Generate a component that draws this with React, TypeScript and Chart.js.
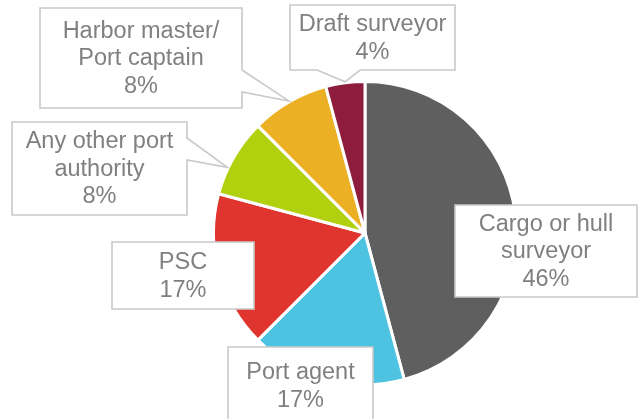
import React, { useEffect, useRef } from "react";
import { Chart, registerables } from "chart.js";

Chart.register(...registerables);

// ---- data ----
const categories = [
  "Cargo or hull surveyor",
  "Port agent",
  "PSC",
  "Any other port authority",
  "Harbor master/ Port captain",
  "Draft surveyor",
];
const labelLines = [
  ["Cargo or hull", "surveyor"],
  ["Port agent"],
  ["PSC"],
  ["Any other port", "authority"],
  ["Harbor master/", "Port captain"],
  ["Draft surveyor"],
];
const responses = [11, 4, 4, 2, 2, 1];
const sliceColors = ["#5f5f5f", "#4dc3e1", "#e0352f", "#b1d10f", "#ebb024", "#8e1c3d"];

// ---- callout layout (label boxes, not marks) ----
type Callout = {
  box: [number, number, number, number];
  wedge?: { side: "right" | "bottom"; a: number; b: number; at: number };
};
const callouts: Callout[] = [
  { box: [455, 205, 637, 297] },
  { box: [228, 347, 373, 424] },
  { box: [112, 242, 254, 309] },
  { box: [12, 122, 187, 215], wedge: { side: "right", a: 138, b: 160, at: 0.35 } },
  { box: [40, 8, 242, 108], wedge: { side: "right", a: 70, b: 92, at: 0.5 } },
  { box: [290, 5, 455, 70], wedge: { side: "bottom", a: 317, b: 360, at: 0.5 } },
];

const FONT = '23.5px "Liberation Sans", Arial, sans-serif';
const LINE_H = 27.5;

const calloutPlugin = {
  id: "callouts",
  afterDraw(chart: any) {
    const ctx = chart.ctx as CanvasRenderingContext2D;
    const meta = chart.getDatasetMeta(0);
    const total = responses.reduce((s, v) => s + v, 0);
    ctx.save();
    callouts.forEach((c, i) => {
      const arc = meta.data[i];
      const p = arc.getProps(["x", "y", "startAngle", "endAngle", "outerRadius"], true);
      const [l, t, r, b] = c.box;
      ctx.beginPath();
      ctx.moveTo(l, t);
      ctx.lineTo(r, t);
      if (c.wedge) {
        const ang = p.startAngle + (p.endAngle - p.startAngle) * c.wedge.at;
        const rad = p.outerRadius + 1;
        const tx = p.x + Math.cos(ang) * rad;
        const ty = p.y + Math.sin(ang) * rad;
        if (c.wedge.side === "right") {
          ctx.lineTo(r, c.wedge.a);
          ctx.lineTo(tx, ty);
          ctx.lineTo(r, c.wedge.b);
          ctx.lineTo(r, b);
          ctx.lineTo(l, b);
        } else {
          ctx.lineTo(r, b);
          ctx.lineTo(c.wedge.b, b);
          ctx.lineTo(tx, ty);
          ctx.lineTo(c.wedge.a, b);
          ctx.lineTo(l, b);
        }
      } else {
        ctx.lineTo(r, b);
        ctx.lineTo(l, b);
      }
      ctx.closePath();
      ctx.fillStyle = "#ffffff";
      ctx.fill();
      ctx.strokeStyle = "#c9c9c9";
      ctx.lineWidth = 1.6;
      ctx.lineJoin = "miter";
      ctx.stroke();

      const pct = Math.round((responses[i] / total) * 100) + "%";
      const lines = [...labelLines[i], pct];
      ctx.fillStyle = "#808080";
      ctx.font = FONT;
      ctx.textAlign = "center";
      ctx.textBaseline = "middle";
      const cx = (l + r) / 2;
      const cy = (t + b) / 2 + 1;
      const y0 = cy - ((lines.length - 1) * LINE_H) / 2;
      lines.forEach((s, k) => ctx.fillText(s, cx, y0 + k * LINE_H));
    });
    ctx.restore();
  },
};

export default function App() {
  const ref = useRef<HTMLCanvasElement | null>(null);
  useEffect(() => {
    if (!ref.current) return;
    const chart = new Chart(ref.current, {
      type: "pie",
      data: {
        labels: categories,
        datasets: [
          {
            data: responses,
            backgroundColor: sliceColors,
            borderColor: "#ffffff",
            borderWidth: 3,
          },
        ],
      },
      options: {
        animation: false,
        responsive: true,
        maintainAspectRatio: false,
        devicePixelRatio: 1,
        layout: { padding: { left: 212, right: 120, top: 80, bottom: 33 } },
        plugins: {
          legend: { display: false },
          tooltip: { enabled: false },
        },
      },
      plugins: [calloutPlugin],
    });
    return () => chart.destroy();
  }, []);
  return (
    <div style={{ position: "fixed", left: 0, top: 0, width: 638, height: 419, background: "#fff" }}>
      <canvas ref={ref} />
    </div>
  );
}
